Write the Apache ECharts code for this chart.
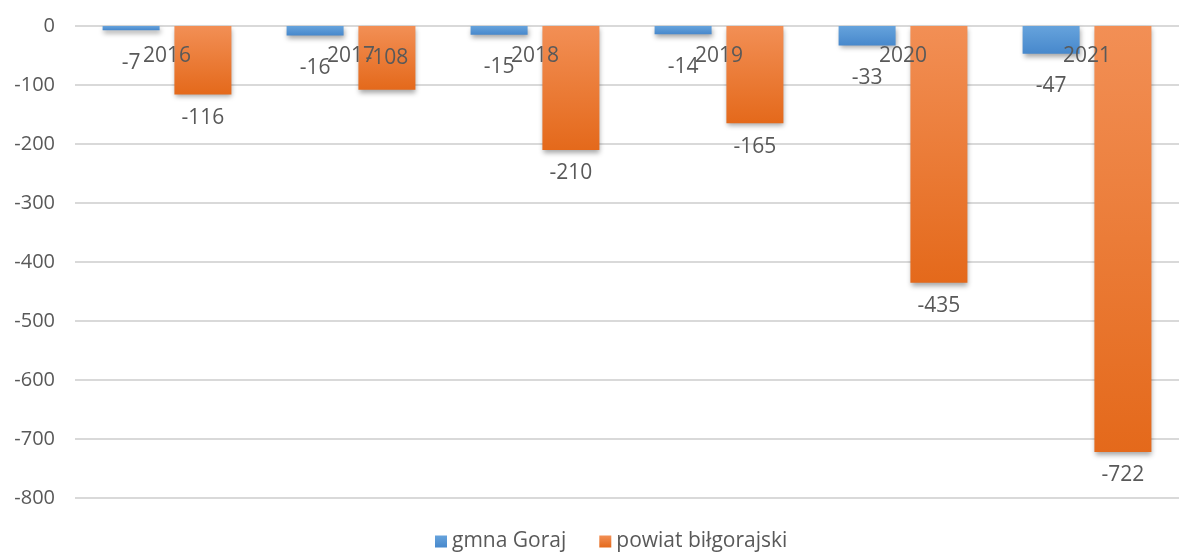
<!DOCTYPE html>
<html>
<head>
<meta charset="utf-8">
<script src="https://cdn.jsdelivr.net/npm/echarts@6/dist/echarts.min.js"></script>
<style>
  html, body { margin: 0; padding: 0; background: #fff; }
  #main { width: 1181px; height: 552px; }
</style>
</head>
<body>
<div id="main"></div>
<script>
var years = ['2016', '2017', '2018', '2019', '2020', '2021'];
var gmina = [-7, -16, -15, -14, -33, -47];
var powiat = [-116, -108, -210, -165, -435, -722];
var seriesNames = ['gmna Goraj', 'powiat biłgorajski'];

var font = '"Open Sans", "Liberation Sans", sans-serif';
var txt = '#595959';

function grad(top, bottom) {
    return new echarts.graphic.LinearGradient(0, 0, 0, 1, [
        { offset: 0, color: top },
        { offset: 1, color: bottom }
    ]);
}

// orange label for 2017 sits inside the bar in the original
var powiatData = powiat.map(function (v, i) {
    if (i === 1) {
        return { value: v, label: { position: 'inside' } };
    }
    return v;
});

var myChart = echarts.init(document.getElementById('main'));
var option = {
    animation: false,
    textStyle: { fontFamily: font },
    grid: { left: 75, right: 2, top: 26, bottom: 54 },
    legend: {
        top: 526,
        left: 430,
        itemWidth: 12,
        itemHeight: 12,
        itemGap: 33,
        icon: 'rect',
        textStyle: { color: txt, fontSize: 21, fontFamily: font },
        data: seriesNames
    },
    xAxis: {
        type: 'category',
        data: years,
        position: 'top',
        z: 10,
        axisLine: { show: false },
        axisTick: { show: false },
        axisLabel: { inside: true, color: txt, fontSize: 21, margin: 20, fontFamily: font }
    },
    yAxis: {
        type: 'value',
        min: -800,
        max: 0,
        interval: 100,
        axisLine: { show: false },
        axisTick: { show: false },
        axisLabel: { color: txt, fontSize: 20, margin: 20, fontFamily: font },
        splitLine: { lineStyle: { color: '#d9d9d9', width: 2 } }
    },
    series: [
        {
            name: seriesNames[0],
            type: 'bar',
            data: gmina,
            barWidth: 57,
            barGap: '26%',
            itemStyle: {
                color: grad('#66a3dc', '#4788cc'),
                shadowBlur: 5,
                shadowOffsetY: 3,
                shadowOffsetX: 1,
                shadowColor: 'rgba(0,0,0,0.35)'
            },
            label: {
                show: true,
                position: 'bottom',
                distance: 22,
                color: txt,
                fontSize: 21,
                fontFamily: font
            }
        },
        {
            name: seriesNames[1],
            type: 'bar',
            data: powiatData,
            barWidth: 57,
            itemStyle: {
                color: grad('#f28f55', '#e4691b'),
                shadowBlur: 5,
                shadowOffsetY: 3,
                shadowOffsetX: 1,
                shadowColor: 'rgba(0,0,0,0.35)'
            },
            label: {
                show: true,
                position: 'bottom',
                distance: 13,
                color: txt,
                fontSize: 21,
                fontFamily: font
            }
        }
    ]
};
myChart.setOption(option);
</script>
</body>
</html>
